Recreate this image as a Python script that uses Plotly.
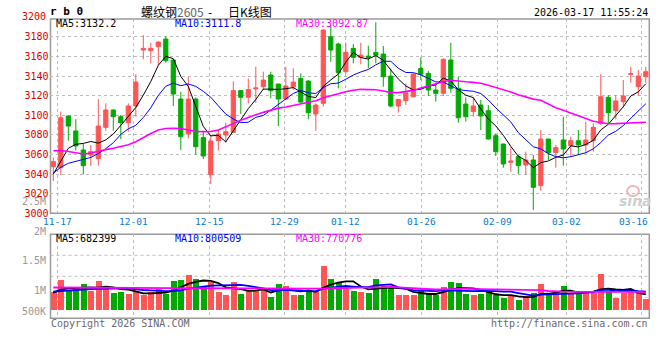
import plotly.graph_objects as go

W, H = 660, 360


def px(x):
    return x / W


def py(y):
    return 1 - y / H


# ---------------- data ----------------
dates = [
    "2025-11-14",
    "2025-11-17", "2025-11-18", "2025-11-19", "2025-11-20", "2025-11-21",
    "2025-11-24", "2025-11-25", "2025-11-26", "2025-11-27", "2025-11-28",
    "2025-12-01", "2025-12-02", "2025-12-03", "2025-12-04", "2025-12-05",
    "2025-12-08", "2025-12-09", "2025-12-10", "2025-12-11", "2025-12-12",
    "2025-12-15", "2025-12-16", "2025-12-17", "2025-12-18", "2025-12-19",
    "2025-12-22", "2025-12-23", "2025-12-24", "2025-12-25", "2025-12-26",
    "2025-12-29", "2025-12-30", "2025-12-31",
    "2026-01-05", "2026-01-06", "2026-01-07", "2026-01-08", "2026-01-09",
    "2026-01-12", "2026-01-13", "2026-01-14", "2026-01-15", "2026-01-16",
    "2026-01-19", "2026-01-20", "2026-01-21", "2026-01-22", "2026-01-23",
    "2026-01-26", "2026-01-27", "2026-01-28", "2026-01-29", "2026-01-30",
    "2026-02-02", "2026-02-03", "2026-02-04", "2026-02-05", "2026-02-06",
    "2026-02-09", "2026-02-10", "2026-02-11", "2026-02-12", "2026-02-13",
    "2026-02-24", "2026-02-25", "2026-02-26", "2026-02-27",
    "2026-03-02", "2026-03-03", "2026-03-04", "2026-03-05", "2026-03-06",
    "2026-03-09", "2026-03-10", "2026-03-11", "2026-03-12", "2026-03-13",
    "2026-03-16", "2026-03-17",
]

opens = [
    3047.6, 3046.5, 3099.3, 3084.0, 3064.6, 3059.5, 3055.7, 3087.7, 3105.4, 3098.6,
    3092.5, 3109.5, 3166.6, 3166.0, 3170.0, 3177.8, 3156.4, 3116.6, 3080.9, 3116.6,
    3077.2, 3039.7, 3074.1, 3079.9, 3082.6, 3125.2, 3118.4, 3126.9, 3129.2, 3141.1,
    3131.9, 3116.6, 3129.2, 3137.6, 3134.9, 3101.3, 3112.2, 3180.2, 3172.7, 3144.5,
    3168.3, 3159.1, 3160.4, 3164.2, 3162.5, 3140.0, 3109.5, 3114.9, 3118.9, 3147.9,
    3142.8, 3125.8, 3122.4, 3156.4, 3127.5, 3111.5, 3103.7, 3110.5, 3104.7, 3079.2,
    3070.7, 3052.0, 3057.8, 3049.3, 3054.4, 3028.2, 3075.8, 3061.9, 3074.8, 3069.0,
    3074.1, 3069.7, 3074.1, 3091.8, 3118.3, 3104.7, 3113.9, 3141.8, 3129.2, 3139.4,
]
highs = [
    3056.8, 3103.7, 3099.5, 3096.0, 3071.0, 3069.7, 3116.6, 3112.2, 3106.0, 3100.3,
    3112.2, 3142.0, 3181.9, 3174.0, 3175.0, 3180.9, 3157.0, 3124.1, 3139.4, 3118.3,
    3084.0, 3079.9, 3085.0, 3092.5, 3134.7, 3125.5, 3137.6, 3149.6, 3144.5, 3144.5,
    3132.0, 3149.6, 3148.0, 3142.8, 3136.0, 3112.2, 3187.5, 3192.0, 3174.0, 3174.0,
    3172.7, 3174.0, 3171.0, 3195.0, 3170.7, 3147.9, 3116.6, 3132.6, 3142.8, 3159.1,
    3145.2, 3131.0, 3158.1, 3174.0, 3139.4, 3118.3, 3118.3, 3115.6, 3110.5, 3081.6,
    3071.0, 3067.3, 3059.5, 3062.9, 3059.5, 3085.0, 3076.0, 3069.7, 3098.6, 3078.2,
    3085.0, 3093.5, 3091.8, 3142.0, 3120.7, 3120.7, 3136.0, 3149.6, 3146.2, 3149.6,
]
lows = [
    3033.0, 3039.0, 3074.0, 3064.0, 3039.7, 3048.3, 3048.6, 3084.3, 3084.3, 3075.8,
    3083.3, 3098.6, 3157.1, 3153.0, 3151.3, 3153.7, 3109.5, 3064.6, 3076.5, 3059.5,
    3055.4, 3029.9, 3064.0, 3072.0, 3082.0, 3101.3, 3112.0, 3112.9, 3125.8, 3117.3,
    3089.0, 3115.6, 3125.8, 3112.9, 3096.0, 3084.3, 3108.8, 3154.7, 3127.5, 3142.8,
    3153.0, 3152.0, 3148.0, 3153.0, 3129.2, 3108.1, 3102.7, 3110.5, 3118.4, 3136.0,
    3119.7, 3113.9, 3119.7, 3123.0, 3092.5, 3093.5, 3098.6, 3084.9, 3075.5, 3058.5,
    3046.5, 3042.4, 3040.1, 3039.0, 3003.3, 3023.1, 3054.4, 3046.5, 3048.6, 3057.8,
    3059.5, 3061.2, 3062.9, 3090.0, 3091.8, 3095.9, 3108.1, 3133.2, 3119.7, 3133.2,
]
closes = [
    3052.7, 3097.5, 3089.0, 3068.7, 3048.6, 3062.9, 3089.0, 3105.4, 3098.6, 3092.5,
    3109.5, 3133.9, 3168.3, 3168.3, 3174.8, 3155.7, 3121.7, 3078.2, 3116.6, 3068.0,
    3058.5, 3073.8, 3080.9, 3083.3, 3125.2, 3118.4, 3126.2, 3127.9, 3136.0, 3125.1,
    3116.6, 3129.9, 3133.9, 3113.5, 3102.7, 3110.5, 3187.0, 3166.6, 3143.4, 3164.2,
    3159.1, 3161.4, 3159.1, 3161.4, 3139.4, 3109.5, 3116.2, 3123.0, 3142.0, 3142.0,
    3125.8, 3122.4, 3157.1, 3127.5, 3097.5, 3098.6, 3109.5, 3099.3, 3075.8, 3062.9,
    3050.3, 3053.4, 3048.6, 3054.4, 3026.5, 3075.8, 3061.9, 3067.0, 3065.6, 3074.1,
    3069.7, 3074.8, 3087.7, 3119.0, 3102.7, 3114.6, 3119.7, 3142.5, 3140.1, 3144.5,
]
ma5 = [
    3040.0, 3052.7, 3066.3, 3070.4, 3071.3, 3073.3, 3071.6, 3074.9, 3080.9, 3089.7,
    3099.0, 3108.0, 3120.6, 3134.5, 3151.0, 3160.2, 3157.8, 3139.7, 3129.4, 3108.0,
    3088.6, 3079.0, 3079.6, 3072.9, 3084.3, 3096.3, 3106.8, 3116.2, 3126.7, 3126.7,
    3126.4, 3127.1, 3128.3, 3123.8, 3119.3, 3118.1, 3129.5, 3136.1, 3142.0, 3154.3,
    3164.1, 3158.9, 3157.4, 3161.0, 3156.1, 3146.2, 3137.1, 3129.9, 3126.0, 3126.5,
    3129.8, 3131.0, 3137.9, 3135.0, 3126.1, 3120.6, 3118.0, 3106.5, 3096.1, 3089.2,
    3079.6, 3068.3, 3058.2, 3053.9, 3046.6, 3051.7, 3053.4, 3057.1, 3059.4, 3068.9,
    3067.7, 3070.2, 3074.4, 3085.1, 3090.8, 3099.8, 3108.7, 3119.7, 3123.9, 3132.2,
]
ma10 = [
    3041.0, 3047.0, 3051.0, 3053.0, 3054.5, 3057.0, 3061.0, 3066.0, 3072.0, 3080.5,
    3086.2, 3089.8, 3097.7, 3107.7, 3120.3, 3129.6, 3132.9, 3130.2, 3132.0, 3129.5,
    3124.4, 3118.4, 3109.7, 3101.2, 3096.2, 3092.5, 3092.9, 3097.9, 3099.8, 3105.5,
    3111.3, 3117.0, 3122.3, 3125.3, 3123.0, 3122.2, 3128.3, 3132.2, 3132.9, 3136.8,
    3141.1, 3144.2, 3146.8, 3151.5, 3155.2, 3155.1, 3148.0, 3143.7, 3143.5, 3141.3,
    3138.0, 3134.1, 3133.9, 3130.5, 3126.3, 3125.2, 3124.5, 3122.2, 3115.6, 3107.6,
    3100.1, 3093.2, 3082.3, 3075.0, 3067.9, 3065.7, 3060.9, 3057.7, 3056.6, 3057.8,
    3059.7, 3061.8, 3065.8, 3072.2, 3079.8, 3083.7, 3089.5, 3097.0, 3104.5, 3111.8,
]
ma30 = [
    3063.9, 3064.0, 3063.0, 3061.5, 3060.5, 3061.5, 3063.5, 3065.0, 3066.3, 3068.0,
    3070.0, 3073.0, 3077.5, 3081.5, 3085.0, 3086.5, 3086.7, 3086.5, 3085.0, 3083.5,
    3083.3, 3083.5, 3085.0, 3088.0, 3091.5, 3095.0, 3098.0, 3100.5, 3103.0, 3105.2,
    3107.3, 3108.4, 3109.9, 3111.4, 3113.2, 3114.8, 3118.0, 3120.1, 3121.6, 3124.0,
    3125.6, 3126.5, 3126.2, 3126.0, 3124.8, 3123.3, 3123.1, 3124.6, 3125.4, 3127.9,
    3130.1, 3131.8, 3134.3, 3135.8, 3134.8, 3134.2, 3133.6, 3132.7, 3130.7, 3128.6,
    3126.4, 3123.8, 3121.0, 3119.0, 3116.5, 3115.3, 3111.2, 3107.8, 3105.2, 3102.2,
    3099.3, 3096.4, 3094.0, 3092.6, 3091.4, 3091.5, 3091.7, 3092.3, 3092.2, 3092.87,
]
volumes = [
    785000, 1288000, 800000, 896000, 1121000, 800000, 1247000, 995000, 742000, 757000,
    708000, 800000, 632000, 757000, 896000, 701000, 1247000, 1288000, 1498000, 1331000,
    975000, 1190000, 783000, 631000, 1211000, 708000, 812000, 867000, 898000, 546000,
    1121000, 1043000, 665000, 665000, 756000, 819000, 1883000, 1330000, 1134000, 994000,
    827000, 785000, 737000, 1330000, 1043000, 952000, 659000, 638000, 665000, 847000,
    701000, 659000, 1001000, 1211000, 1155000, 700000, 630000, 700000, 763000, 658000,
    540000, 610000, 448000, 588000, 721000, 1120000, 679000, 664000, 1035000, 721000,
    700000, 825000, 714000, 1540000, 833000, 540000, 728000, 917000, 742000, 497000,
]
vol_ma5 = [
    760000, 885000, 935000, 955000, 978000, 981000, 973000, 1012000, 981000, 908000,
    890000, 800000, 728000, 731000, 759000, 757000, 847000, 978000, 1126000, 1213000,
    1268000, 1256000, 1155000, 982000, 958000, 905000, 829000, 846000, 899000, 766000,
    849000, 895000, 855000, 808000, 850000, 790000, 958000, 1091000, 1184000, 1232000,
    1234000, 1014000, 895000, 935000, 944000, 969000, 944000, 924000, 791000, 752000,
    702000, 702000, 775000, 884000, 945000, 945000, 939000, 879000, 790000, 690000,
    658000, 654000, 604000, 569000, 581000, 697000, 711000, 754000, 844000, 844000,
    760000, 789000, 799000, 900000, 922000, 890000, 871000, 912000, 749000, 682399,
]
vol_ma10 = [
    800000, 830000, 850000, 870000, 890000, 905000, 920000, 930000, 940000, 943000,
    935000, 887000, 870000, 856000, 833000, 824000, 824000, 853000, 928000, 986000,
    1013000, 1052000, 1067000, 1054000, 1086000, 1086000, 1043000, 1001000, 941000, 862000,
    877000, 862000, 850000, 854000, 808000, 819000, 926000, 973000, 996000, 1041000,
    1012000, 986000, 993000, 1060000, 1088000, 1102000, 979000, 910000, 863000, 848000,
    836000, 823000, 850000, 838000, 849000, 824000, 821000, 827000, 837000, 818000,
    802000, 797000, 742000, 679000, 636000, 678000, 683000, 679000, 706000, 713000,
    729000, 750000, 777000, 872000, 883000, 825000, 830000, 855000, 824000, 800509,
]
vol_ma30 = [
    975000, 975000, 974000, 973000, 972000, 970000, 968000, 966000, 964000, 962000,
    960000, 957000, 954000, 951000, 948000, 946000, 944000, 942000, 941000, 940000,
    939000, 938000, 937000, 936000, 935000, 934000, 933000, 932000, 931000, 930300,
    941500, 933400, 928900, 921200, 909000, 909600, 930800, 942000, 955100, 963000,
    966900, 966400, 969900, 989000, 993900, 1002300, 982700, 961000, 933200, 917100,
    908000, 890300, 897500, 916900, 915000, 914700, 908700, 903100, 898600, 902300,
    883000, 868500, 861300, 858700, 857600, 867600, 827500, 805300, 802000, 792900,
    788600, 790000, 789200, 796200, 789200, 775500, 777800, 787100, 789700, 770776,
]
tick_dates = ["2025-11-17", "2025-12-01", "2025-12-15", "2025-12-29", "2026-01-12",
              "2026-01-26", "2026-02-09", "2026-03-02", "2026-03-16"]
price_ticks = [3000, 3020, 3040, 3060, 3080, 3100, 3120, 3140, 3160, 3180]
price_top_label = "3200"
vol_labels = ["2.5M", "2M", "1.5M", "1M", "500K"]
symbol = "r b 0"
title_cn = "螺纹钢"
contract = "2605"
chart_kind = "日K线图"
timestamp = "2026-03-17 11:55:24"

# ---------------- styling ----------------
RED = "#ff5555"
GREEN = "#00aa00"
MONO = "DejaVu Sans Mono"
CJK = "Noto Sans CJK SC"
GRID = "#bdbdbd"
BORDER = "#9a9a9a"
DATE_BLUE = "#0a7ad2"

n = len(dates)
idx = list(range(n))
# Sina spaces its date grid a little wider than the candle slots
grid_x = [dates.index(d) * n / (n - 1) - 0.5 for d in tick_dates]
bar_colors = [RED if c > o else GREEN for o, c in zip(opens, closes)]

XDOM = [px(49.55), px(649.55)]
Y_BOTTOM_PX, Y_TOP_PX, PX_PER_PT = 213.3, 19.0, 0.98
VOL_BASE_PX, VOL_PER_PX = 310.7, 42000.0

fig = go.Figure()
fig.add_trace(go.Candlestick(
    x=idx, open=opens, high=highs, low=lows, close=closes,
    increasing=dict(line=dict(color=RED, width=1), fillcolor=RED),
    decreasing=dict(line=dict(color=GREEN, width=1), fillcolor=GREEN),
    whiskerwidth=0, xaxis="x", yaxis="y", hoverinfo="skip"))
for arr, col, w in [(ma5, "#000000", 1), (ma10, "#0000ff", 1), (ma30, "#ff00ff", 1.6)]:
    fig.add_trace(go.Scatter(x=idx, y=arr, mode="lines", line=dict(color=col, width=w),
                             xaxis="x", yaxis="y", hoverinfo="skip"))
fig.add_trace(go.Bar(x=idx, y=volumes, width=0.8,
                     marker=dict(color=bar_colors, line=dict(width=0)),
                     xaxis="x2", yaxis="y2", hoverinfo="skip"))
for arr, col in [(vol_ma5, "#000000"), (vol_ma10, "#0000ff"), (vol_ma30, "#ff00ff")]:
    fig.add_trace(go.Scatter(x=idx, y=arr, mode="lines", line=dict(color=col, width=1.8),
                             xaxis="x2", yaxis="y2", hoverinfo="skip"))

xgrid = dict(domain=XDOM, range=[-0.5, n - 0.5], tickmode="array", tickvals=grid_x,
             showticklabels=False, ticks="", showgrid=True, gridcolor=GRID, griddash="dot",
             gridwidth=1, zeroline=False, showline=False, fixedrange=True)

fig.update_layout(
    width=W, height=H, margin=dict(l=0, r=0, t=0, b=0),
    paper_bgcolor="white", plot_bgcolor="rgba(0,0,0,0)", showlegend=False,
    boxgap=0.2, bargap=0,
    xaxis=dict(xgrid, anchor="y", rangeslider=dict(visible=False)),
    xaxis2=dict(xgrid, anchor="y2"),
    yaxis=dict(domain=[py(Y_BOTTOM_PX), py(Y_TOP_PX)],
               range=[3000, 3000 + (Y_BOTTOM_PX - Y_TOP_PX) / PX_PER_PT],
               anchor="x", tickmode="array", tickvals=price_ticks,
               ticktext=[str(v) for v in price_ticks],
               tickfont=dict(family=MONO, size=10, color="#e00000"),
               ticks="", showgrid=True, gridcolor=GRID, griddash="dot", gridwidth=1,
               zeroline=False, showline=False, fixedrange=True, automargin=False),
    yaxis2=dict(domain=[py(318.3), py(234.3)],
                range=[-(318.3 - VOL_BASE_PX) * VOL_PER_PX, (VOL_BASE_PX - 234.3) * VOL_PER_PX],
                anchor="x2", showticklabels=False, ticks="", showgrid=False,
                zeroline=False, showline=False, fixedrange=True),
)

shapes = []
for (t, b) in [(Y_TOP_PX, Y_BOTTOM_PX), (234.3, 318.3)]:
    shapes.append(dict(type="rect", xref="paper", yref="paper", x0=px(50.5), x1=px(649.3),
                       y0=py(b), y1=py(t), line=dict(color=BORDER, width=1.5),
                       fillcolor="rgba(0,0,0,0)", layer="below"))
for gy in [255.3, 276.3, 297.3]:
    shapes.append(dict(type="line", xref="paper", yref="paper", x0=px(50.5), x1=px(649.3),
                       y0=py(gy), y1=py(gy), line=dict(color=GRID, width=1, dash="dot"),
                       layer="below"))
# sina eye logo (light watermark)
shapes.append(dict(type="circle", xref="paper", yref="paper", x0=px(627), x1=px(639),
                   y0=py(196), y1=py(186), line=dict(color="#f3b5b5", width=2),
                   fillcolor="rgba(0,0,0,0)", layer="below"))
fig.update_layout(shapes=shapes)

ann = []


def text(x, y, s, color="#000000", size=10, family=MONO, xanchor="left", xref="paper"):
    ann.append(dict(x=x, y=y, xref=xref, yref="paper", text=s, showarrow=False,
                    xanchor=xanchor, yanchor="middle",
                    font=dict(family=family, size=size, color=color), borderpad=0))


text(px(46.5), py(16.3), price_top_label, "#e00000", xanchor="right")
for lab, yy in zip(vol_labels, [201, 231, 260.7, 290.7, 311]):
    text(px(46.5), py(yy), lab, "#999999", xanchor="right")
for d, gx in zip(tick_dates, grid_x):
    lab = d[5:]
    if d == tick_dates[-1]:
        text(px(649), py(221.7), lab, DATE_BLUE, size=9.5, xanchor="right")
    else:
        text(gx, py(221.7), lab, DATE_BLUE, size=9.5, xanchor="center", xref="x")

text(px(48.5), py(11.7), "<b>" + symbol + "</b>", size=11)
text(px(140), py(11), title_cn + "<span style='color:#666666'>" + contract + "</span>",
     size=12, family=CJK)
text(px(210), py(11), "-", size=12, family=CJK, xanchor="center")
text(px(227), py(11), chart_kind, size=12, family=CJK)
text(px(648.5), py(12.3), timestamp, xanchor="right")

text(px(55), py(23.3), "MA5:" + str(ma5[-1]), "#000000")
text(px(174), py(23.3), "MA10:" + str(ma10[-1]), "#0000ff")
text(px(295), py(23.3), "MA30:" + str(ma30[-1]), "#ff00ff")
text(px(55), py(238.3), "MA5:" + str(vol_ma5[-1]), "#000000")
text(px(174), py(238.3), "MA10:" + str(vol_ma10[-1]), "#0000ff")
text(px(295), py(238.3), "MA30:" + str(vol_ma30[-1]), "#ff00ff")

text(px(49.5), py(323.3), "Copyright 2026 SINA.COM", "#6a6a6a")
text(px(648.5), py(323.3), "http://finance.sina.com.cn", "#6a6a6a", xanchor="right")
text(px(635), py(201), "<b><i>sina</i></b>", "#cfcfcf", size=14, family="DejaVu Sans",
     xanchor="center")

fig.update_layout(annotations=ann)
fig.write_html("out.html", config={"displayModeBar": False},
               post_script="document.body.style.margin='0px';"
                           "document.body.style.overflow='hidden';")
